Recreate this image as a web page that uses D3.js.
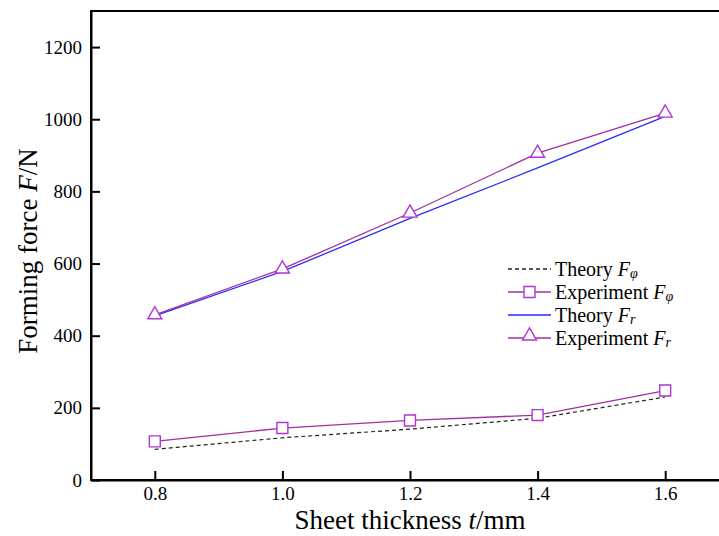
<!DOCTYPE html>
<html>
<head>
<meta charset="utf-8">
<script src="https://cdn.jsdelivr.net/npm/d3@7"></script>
<style>
  body { margin: 0; background: #fff; }
  svg text { font-family: 'Liberation Serif', 'DejaVu Serif', serif; fill: #000; }
</style>
</head>
<body>
<div id="chart-area"></div>
<script>
// thickness values (mm)
var thickness = [0.8, 1.0, 1.2, 1.4, 1.6]
var theoryFphi = [85, 117, 141, 171, 230]
var experimentFphi = [107, 144, 165, 180, 248]
var theoryFr = [455, 578, 725, 865, 1008]
var experimentFr = [458, 585, 740, 906, 1017]
var xTicks = [0.8, 1.0, 1.2, 1.4, 1.6]
var yTicks = [0, 200, 400, 600, 800, 1000, 1200]

var serif = "'Liberation Serif', 'DejaVu Serif', serif"
var W = 719, H = 536
var margin = { left: 91, top: 11, right: -10, bottom: 56 }
var width = W - margin.left - margin.right,
    height = H - margin.top - margin.bottom

var svg = d3.select('#chart-area')
  .append('svg')
    .attr('width', W)
    .attr('height', H)
    .style('font-family', serif)

var g = svg.append('g')
    .attr('transform', 'translate(' + margin.left + ',' + margin.top + ')')

var x = d3.scaleLinear().domain([0.7, 1.7]).range([0, width])
var y = d3.scaleLinear().domain([0, 1300]).range([height, 0])

// frame
g.append('rect')
  .attr('width', width).attr('height', height)
  .attr('fill', 'none').attr('stroke', '#000').attr('stroke-width', 2)

var xAxis = g.append('g')
  .attr('transform', 'translate(0,' + height + ')')
  .call(d3.axisBottom(x).tickValues(xTicks).tickFormat(d3.format('.1f'))
    .tickSizeInner(-9).tickSizeOuter(0).tickPadding(7))
var yAxis = g.append('g')
  .call(d3.axisLeft(y).tickValues(yTicks).tickFormat(d3.format('d'))
    .tickSizeInner(-9).tickSizeOuter(0).tickPadding(9))

;[xAxis, yAxis].forEach(a => {
  a.attr('font-family', null).attr('font-size', null)
  a.select('.domain').attr('stroke-width', 2)
  a.selectAll('.tick line').attr('stroke-width', 2)
  a.selectAll('.tick text')
    .style('font-family', serif)
    .style('font-size', '19px')
    .attr('fill', '#000')
})

var line = d3.line().x(d => x(d[0])).y(d => y(d[1]))
function pts(vals) { return thickness.map((t, i) => [t, vals[i]]) }

var purpleLine = '#a1309e', purpleMark = '#b035d4'

g.append('path').attr('d', line(pts(theoryFphi)))
  .attr('fill', 'none').attr('stroke', '#222').attr('stroke-width', 1.2)
  .attr('stroke-dasharray', '4,3')
g.append('path').attr('d', line(pts(experimentFphi)))
  .attr('fill', 'none').attr('stroke', purpleLine).attr('stroke-width', 1.3)
g.append('path').attr('d', line(pts(theoryFr)))
  .attr('fill', 'none').attr('stroke', '#2a2aff').attr('stroke-width', 1.3)
g.append('path').attr('d', line(pts(experimentFr)))
  .attr('fill', 'none').attr('stroke', purpleLine).attr('stroke-width', 1.3)

var sq = d3.symbol().type(d3.symbolSquare).size(120)
var tri = d3.symbol().type(d3.symbolTriangle).size(85)

g.selectAll('.sq').data(pts(experimentFphi)).enter()
  .append('path').attr('class', 'sq')
  .attr('d', sq)
  .attr('transform', d => 'translate(' + x(d[0]) + ',' + y(d[1]) + ')')
  .attr('fill', '#fff').attr('stroke', purpleMark).attr('stroke-width', 1.4)

g.selectAll('.tri').data(pts(experimentFr)).enter()
  .append('path').attr('class', 'tri')
  .attr('d', tri)
  .attr('transform', d => 'translate(' + x(d[0]) + ',' + y(d[1]) + ')')
  .attr('fill', '#fff').attr('stroke', purpleMark).attr('stroke-width', 1.4)

// legend
var legend = [
  { name: 'Theory ', sub: 'φ', color: '#222', dash: '4,3', mark: null },
  { name: 'Experiment ', sub: 'φ', color: purpleLine, dash: null, mark: sq },
  { name: 'Theory ', sub: 'r', color: '#2a2aff', dash: null, mark: null },
  { name: 'Experiment ', sub: 'r', color: purpleLine, dash: null, mark: tri }
]
var lg = svg.append('g').attr('transform', 'translate(508,269)')
legend.forEach((d, i) => {
  var row = lg.append('g').attr('transform', 'translate(0,' + (i * 23) + ')')
  row.append('line').attr('x1', 0).attr('x2', 43).attr('y1', 0).attr('y2', 0)
    .attr('stroke', d.color).attr('stroke-width', 1.3)
    .attr('stroke-dasharray', d.dash)
  if (d.mark) {
    row.append('path').attr('d', d.mark)
      .attr('transform', 'translate(21.5,' + (d.mark === tri ? -2 : 0) + ')')
      .attr('fill', '#fff').attr('stroke', purpleMark).attr('stroke-width', 1.4)
  }
  var t = row.append('text').attr('x', 47).attr('y', 6.5).style('font-size', '20px')
  t.append('tspan').text(d.name)
  t.append('tspan').attr('font-style', 'italic').text('F')
  t.append('tspan').attr('font-style', 'italic').style('font-size', '14px').attr('dy', 2).text(d.sub)
})

// axis titles
var xt = svg.append('text')
  .attr('x', 410).attr('y', 529)
  .attr('text-anchor', 'middle')
  .style('font-size', '27px')
xt.append('tspan').text('Sheet thickness ')
xt.append('tspan').attr('font-style', 'italic').text('t')
xt.append('tspan').text('/mm')

var yt = svg.append('text')
  .attr('transform', 'translate(37,251) rotate(-90)')
  .attr('text-anchor', 'middle')
  .style('font-size', '27px')
yt.append('tspan').text('Forming force ')
yt.append('tspan').attr('font-style', 'italic').text('F')
yt.append('tspan').text('/N')
</script>
</body>
</html>
